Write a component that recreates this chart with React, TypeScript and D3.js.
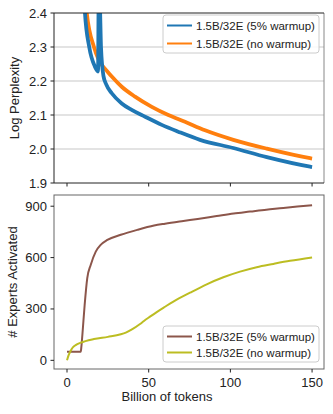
import React from 'react';
import * as d3 from 'd3';

// top panel: log perplexity
const warmX = [10.5, 11.0, 13.6, 17.1, 19.0, 19.4, 19.9, 20.8, 22.3, 24.0, 27.4, 33.5, 39.6, 47.8, 58, 68.1, 81.4, 101.8, 122.3, 148.8, 150];
const warmY = [2.45, 2.40, 2.30, 2.242, 2.228, 2.45, 2.45, 2.30, 2.215, 2.19, 2.164, 2.134, 2.115, 2.095, 2.071, 2.051, 2.027, 2.003, 1.976, 1.948, 1.947];
const noWarmX = [11.5, 12.1, 16.5, 19.2, 21.2, 24, 27.4, 33.5, 41.6, 51.9, 62, 72.2, 84.5, 101.8, 122.3, 148.8, 150];
const noWarmY = [2.45, 2.40, 2.30, 2.265, 2.248, 2.232, 2.213, 2.183, 2.154, 2.124, 2.100, 2.080, 2.055, 2.027, 2.001, 1.973, 1.972];

// bottom panel: experts activated
const expWarmX = [0, 8.4, 8.8, 9.4, 10.8, 12.4, 14.5, 17.6, 20.6, 24.7, 32.9, 43, 53.3, 60, 71.2, 80, 91.6, 102, 112, 122, 132.4, 141, 150];
const expWarmY = [50, 50, 80, 148, 323, 480, 557, 635, 674, 703, 733, 762, 787, 798, 814, 826, 843, 858, 869, 880, 889, 898, 906];
const expNoWarmX = [0, 1, 2.2, 3.5, 5.3, 8.4, 16.5, 25, 32.9, 36, 40, 44.7, 47.1, 50.8, 54.9, 60, 65.1, 75.3, 85.5, 95.7, 105.9, 116.1, 126.3, 136.5, 150];
const expNoWarmY = [0, 30, 55, 75, 89, 103, 124, 137, 152, 162, 182, 212, 230, 255, 282, 313, 343, 395, 444, 485, 518, 544, 563, 581, 601];

const xTicks = [0, 50, 100, 150];
const topTicks = [1.9, 2.0, 2.1, 2.2, 2.3, 2.4];
const botTicks = [0, 300, 600, 900];
const labels = ['1.5B/32E (5% warmup)', '1.5B/32E (no warmup)'];

const font = 'Liberation Sans, Arial, sans-serif';
const left = 54, right = 324;
const top1 = 13, bot1 = 183;
const top2 = 195, bot2 = 369;

const x = d3.scaleLinear().domain([-7.96, 157.3]).range([left, right]);
const y1 = d3.scaleLinear().domain([1.9, 2.4]).range([bot1, top1]);
const y2 = d3.scaleLinear().domain([-50.6, 965.5]).range([bot2, top2]);

const pts = (xs: number[], ys: number[]) => xs.map((v, i) => [v, ys[i]] as [number, number]);
const lineTop = d3.line<[number, number]>().x(d => x(d[0])).y(d => y1(d[1])).curve(d3.curveMonotoneX);
const lineBot = d3.line<[number, number]>().x(d => x(d[0])).y(d => y2(d[1])).curve(d3.curveMonotoneX);

const Legend = ({ bx, by, h, colors }: { bx: number; by: number; h: number; colors: string[] }) => (
  <g>
    <rect x={bx} y={by} width={156} height={h} rx={3} fill="white" fillOpacity={0.85} stroke="#ccc" />
    {labels.map((t, i) => {
      const ly = by + 10.5 + i * (h - 20);
      return (
        <g key={t}>
          <line x1={bx + 4} x2={bx + 29} y1={ly} y2={ly} stroke={colors[i]} strokeWidth={2} />
          <text x={bx + 33} y={ly + 4} fontSize={11.5} fill="#222">{t}</text>
        </g>
      );
    })}
  </g>
);

export default function App() {
  return (
    <svg width={333} height={414} style={{ position: 'absolute', left: 0, top: 0, fontFamily: font }}>
      <defs>
        <clipPath id="c1"><rect x={left} y={top1} width={right - left} height={bot1 - top1} /></clipPath>
        <clipPath id="c2"><rect x={left} y={top2} width={right - left} height={bot2 - top2} /></clipPath>
      </defs>
      <rect width={333} height={414} fill="white" />

      {/* top panel */}
      {topTicks.slice(1, -1).map(t => (
        <line key={t} x1={left} x2={right} y1={y1(t)} y2={y1(t)} stroke="#c8c8c8" strokeWidth={1.2} />
      ))}
      <g clipPath="url(#c1)">
        <path d={lineTop(pts(noWarmX, noWarmY)) || ''} fill="none" stroke="#ff7f0e" strokeWidth={3.8} />
        <path d={lineTop(pts(warmX, warmY)) || ''} fill="none" stroke="#1f77b4" strokeWidth={3.8} />
      </g>
      <line x1={right} x2={right} y1={top1} y2={bot1} stroke="#888" />
      <line x1={left} x2={right} y1={top1} y2={top1} stroke="#222" />
      <line x1={left} x2={left} y1={top1} y2={bot1} stroke="#222" />
      <line x1={left} x2={right} y1={bot1} y2={bot1} stroke="#222" />
      {topTicks.map(t => (
        <g key={t}>
          <line x1={left - 3.5} x2={left} y1={y1(t)} y2={y1(t)} stroke="#222" />
          <text x={left - 7} y={y1(t) + 4.5} fontSize={13} textAnchor="end" fill="#222">{t.toFixed(1)}</text>
        </g>
      ))}
      {xTicks.map(t => (
        <line key={t} x1={x(t)} x2={x(t)} y1={bot1} y2={bot1 + 3.5} stroke="#222" />
      ))}
      <text transform={`translate(19,${(top1 + bot1) / 2}) rotate(-90)`} fontSize={13} textAnchor="middle" fill="#222">Log Perplexity</text>
      <Legend bx={163} by={15} h={38} colors={['#1f77b4', '#ff7f0e']} />

      {/* bottom panel */}
      <g clipPath="url(#c2)">
        <path d={lineBot(pts(expWarmX, expWarmY)) || ''} fill="none" stroke="#8c564b" strokeWidth={2} />
        <path d={lineBot(pts(expNoWarmX, expNoWarmY)) || ''} fill="none" stroke="#bcbd22" strokeWidth={2} />
      </g>
      <rect x={left} y={top2} width={right - left} height={bot2 - top2} fill="none" stroke="#666" />
      {botTicks.map(t => (
        <g key={t}>
          <line x1={left - 3.5} x2={left} y1={y2(t)} y2={y2(t)} stroke="#222" />
          <text x={left - 7} y={y2(t) + 4.5} fontSize={13} textAnchor="end" fill="#222">{t}</text>
        </g>
      ))}
      {xTicks.map(t => (
        <g key={t}>
          <line x1={x(t)} x2={x(t)} y1={bot2} y2={bot2 + 3.5} stroke="#222" />
          <text x={x(t)} y={387} fontSize={13} textAnchor="middle" fill="#222">{t}</text>
        </g>
      ))}
      <text transform={`translate(17,${(top2 + bot2) / 2}) rotate(-90)`} fontSize={13} textAnchor="middle" fill="#222"># Experts Activated</text>
      <text x={167} y={401} fontSize={13} textAnchor="middle" fill="#222">Billion of tokens</text>
      <Legend bx={163} by={326} h={36} colors={['#8c564b', '#bcbd22']} />
    </svg>
  );
}
